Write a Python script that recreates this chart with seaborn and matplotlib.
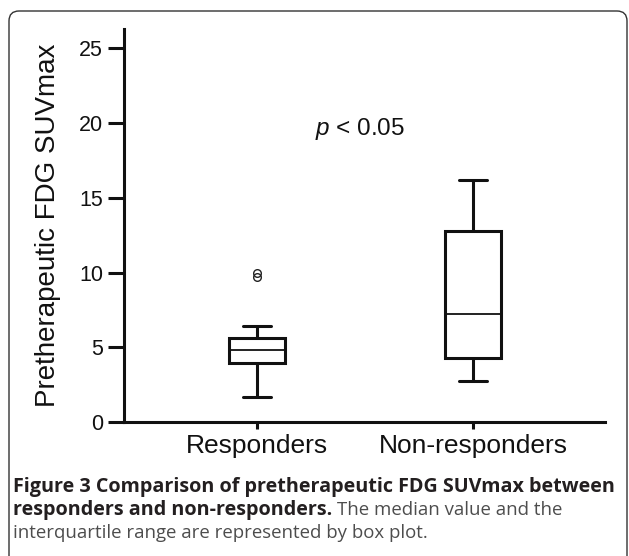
import matplotlib
matplotlib.use('Agg')
import matplotlib.pyplot as plt
import seaborn as sns
import pandas as pd
from matplotlib.patches import FancyBboxPatch
from matplotlib.transforms import IdentityTransform

grupos = ['Responders', 'Non-responders']
responders = [1.7, 3.2, 3.76, 4.0, 4.4, 4.7, 4.9, 5.1, 5.33, 6.4, 9.7, 10.0]
non_responders = [2.75, 4.28, 7.2, 12.77, 16.2]
yticks = [0, 5, 10, 15, 20, 25]

dados = pd.DataFrame({
    'Grupo': [grupos[0]] * len(responders) + [grupos[1]] * len(non_responders),
    'SUVmax': responders + non_responders,
})

sns.set_style('ticks')
plt.rcParams['font.family'] = ['Liberation Sans', 'DejaVu Sans']
plt.rcParams['mathtext.fontset'] = 'custom'
plt.rcParams['mathtext.it'] = 'Liberation Sans:italic'
plt.rcParams['mathtext.rm'] = 'Liberation Sans'

W, H = 629, 556
fig = plt.figure(figsize=(W / 100, H / 100), dpi=100)
ax = fig.add_axes([124 / W, 1 - 422 / H, 481 / W, 393 / H])

sns.boxplot(data=dados, x='Grupo', y='SUVmax', order=grupos, ax=ax,
            width=0.26, color='white', linecolor='#111111', linewidth=2.2,
            medianprops={'linewidth': 1.3},
            flierprops={'marker': 'o', 'markersize': 5.5,
                        'markerfacecolor': 'none',
                        'markeredgecolor': '#222222',
                        'markeredgewidth': 1.0})

ax.set_ylim(0, 26.3)
ax.set_xlim(-0.616, 1.61)
ax.set_yticks(yticks)
ax.set_xlabel('')
ax.set_ylabel('Pretherapeutic FDG SUVmax', fontsize=20, color='#111111')
ax.yaxis.set_label_coords(-0.13, 0.5)
sns.despine(ax=ax)
for s in ['left', 'bottom']:
    ax.spines[s].set_linewidth(2.2)
    ax.spines[s].set_color('#111111')
ax.tick_params(axis='y', length=11.5, width=2.2, pad=3.5, labelsize=15.5,
               color='#111111', labelcolor='#111111')
ax.tick_params(axis='x', length=5, width=2.2, pad=3.5, labelsize=19,
               color='#111111', labelcolor='#111111')

fig.text(315 / W, 1 - 135 / H, '$p$ < 0.05', fontsize=17.5, ha='left',
         va='baseline', color='#111111')

# legenda da figura
fonte_leg = ['Open Sans', 'DejaVu Sans']
fig.text(13 / W, 1 - 492 / H,
         'Figure 3 Comparison of pretherapeutic FDG SUVmax between',
         fontsize=14.2, fontweight='bold', family=fonte_leg, color='#231f20',
         va='baseline')
t2 = fig.text(13 / W, 1 - 515 / H, 'responders and non-responders.',
              fontsize=14.2, fontweight='bold', family=fonte_leg,
              color='#231f20', va='baseline')
bb = t2.get_window_extent(fig.canvas.get_renderer())
fig.text((bb.x1 + 5) / W, 1 - 515 / H, 'The median value and the',
         fontsize=13.4, family=fonte_leg, color='#4d4d4d', va='baseline')
fig.text(13 / W, 1 - 538 / H,
         'interquartile range are represented by box plot.',
         fontsize=13.4, family=fonte_leg, color='#4d4d4d', va='baseline')

moldura = FancyBboxPatch((9, -20), 618, H - 11 + 20,
                         boxstyle='round,pad=0,rounding_size=10',
                         transform=IdentityTransform(), fill=False,
                         edgecolor='#333333', linewidth=1.0)
fig.add_artist(moldura)

fig.savefig('out.png', dpi=100)
